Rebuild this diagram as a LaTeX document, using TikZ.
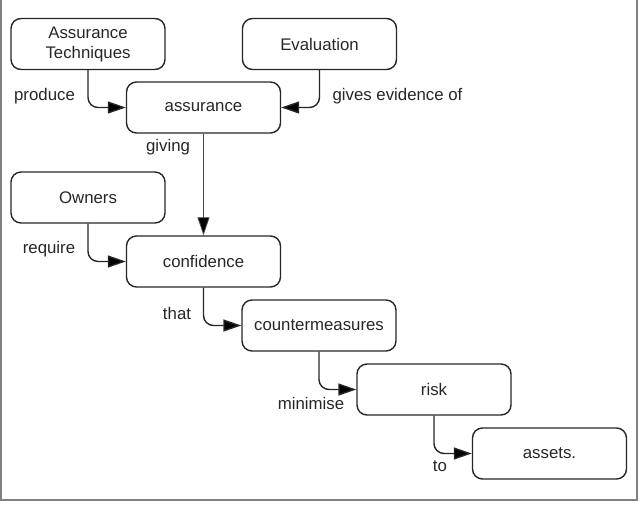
\documentclass[tikz,border=0pt]{standalone}
\usepackage{fontspec}
\setmainfont{Liberation Sans}
\usetikzlibrary{arrows.meta}
\begin{document}
\begin{tikzpicture}[x=1pt,y=-1pt,
  box/.style={draw=black!85,line width=1.4pt,rounded corners=10pt,minimum width=154pt,minimum height=51pt,inner sep=2pt,align=center,font=\fontsize{16.8}{20}\selectfont,text=black!85},
  lbl/.style={font=\fontsize{16.8}{20}\selectfont,text=black!85,inner sep=0pt},
  conn/.style={draw=black!85,line width=1.4pt,rounded corners=10pt,-{Triangle[length=18pt,width=12pt,fill=black]}},
  thin/.style={draw=black!70,line width=0.8pt,-{Triangle[length=18pt,width=12pt,fill=black]}}]
\useasboundingbox (0,0) rectangle (643,504);
\draw[gray,line width=1.5pt] (1,0) -- (1,500) -- (637,500) -- (637,0);
\node[box] (at) at (88,44) {Assurance\\Techniques};
\node[box] (ev) at (319.5,44) {Evaluation};
\node[box] (as) at (203.5,107.5) {assurance};
\node[box] (ow) at (88,197.5) {Owners};
\node[box] (co) at (203.5,261.5) {confidence};
\node[box] (cm) at (319,325.5) {countermeasures};
\node[box] (ri) at (434,389.5) {risk};
\node[box] (ass) at (549.5,453.5) {assets.};
\draw[conn] (at.south) |- (as.west);
\draw[conn] (ev.south) |- (as.east);
\draw[thin] (as.south) -- (co.north);
\draw[conn] (ow.south) |- (co.west);
\draw[conn] (co.south) |- (cm.west);
\draw[conn] (cm.south) |- (ri.west);
\draw[conn] (ri.south) |- (ass.west);
\node[lbl] (l1) at (44.5,96) {produce};
\node[lbl] (l2) at (397.5,96) {gives evidence of};
\node[lbl] (l3) at (168,147) {giving};
\node[lbl] (l4) at (49,249) {require};
\node[lbl] (l5) at (177,313) {that};
\node[lbl] (l6) at (311,403) {minimise};
\node[lbl] (l7) at (440,466) {to};
\end{tikzpicture}
\end{document}
